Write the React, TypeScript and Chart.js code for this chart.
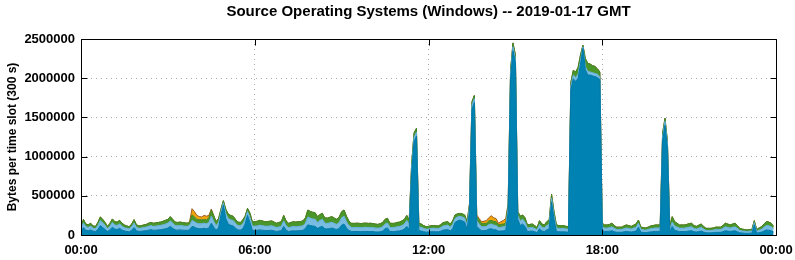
import React, { useEffect, useRef } from 'react';
import { Chart, registerables } from 'chart.js';

Chart.register(...registerables);

const chartTitle = 'Source Operating Systems (Windows) -- 2019-01-17 GMT';
const yAxisTitle = 'Bytes per time slot (300 s)';
const xTickLabels = ['00:00', '06:00', '12:00', '18:00', '00:00'];
const xTickHours = [0, 6, 12, 18, 24];
const yTickValues = [0, 500000, 1000000, 1500000, 2000000, 2500000];
const slotMinutes = 5;
const seriesNames = ['Windows (dark blue)', 'Windows (light blue)', 'Windows (green)', 'Windows (orange)'];

// values in kilobytes per 300 s slot, 288 slots
const darkBlue = [
  40, 95, 60, 55, 65, 48, 45, 70, 120, 95,
  70, 45, 65, 100, 75, 70, 85, 62, 52, 45,
  40, 60, 95, 55, 45, 48, 52, 55, 62, 68,
  60, 62, 65, 68, 72, 80, 88, 110, 85, 65,
  62, 65, 62, 60, 58, 68, 110, 100, 85, 80,
  80, 85, 80, 90, 150, 100, 65, 90, 250, 380,
  210, 140, 125, 115, 90, 65, 62, 80, 140, 250,
  160, 60, 58, 60, 65, 62, 58, 56, 58, 60,
  52, 46, 50, 55, 110, 60, 45, 50, 55, 52,
  55, 56, 60, 85, 130, 120, 115, 110, 85, 100,
  110, 80, 78, 82, 88, 78, 70, 85, 125, 140,
  90, 60, 45, 44, 45, 45, 43, 45, 46, 44,
  45, 43, 40, 38, 42, 50, 80, 90, 45, 44,
  45, 50, 52, 60, 75, 110, 70, 780, 1190, 1260,
  55, 50, 42, 36, 38, 42, 43, 42, 40, 48,
  62, 66, 70, 52, 80, 160, 180, 190, 180, 165,
  70, 300, 1600, 1690, 110, 80, 55, 55, 60, 75,
  80, 70, 65, 50, 50, 55, 60, 280, 1990, 2350,
  2200, 200, 120, 140, 110, 45, 48, 50, 42, 30,
  80, 50, 45, 65, 75, 420, 200, 45, 42, 40,
  42, 38, 36, 1850, 1990, 1960, 2000, 2180, 2380, 2110,
  2040, 2040, 2030, 2020, 2010, 1980, 55, 46, 46, 48,
  55, 42, 35, 35, 35, 40, 46, 42, 38, 44,
  50, 100, 35, 33, 30, 35, 40, 42, 46, 46,
  46, 1200, 1400, 1110, 38, 110, 60, 52, 44, 44,
  44, 47, 52, 55, 42, 38, 44, 50, 38, 28,
  28, 28, 30, 34, 34, 34, 42, 55, 50, 45,
  50, 55, 42, 28, 25, 23, 20, 23, 23, 130,
  23, 30, 36, 50, 65, 62, 55, 38,
];

const lightBlue = [
  30, 60, 45, 42, 48, 38, 36, 50, 65, 60,
  50, 35, 47, 60, 52, 52, 57, 48, 42, 40,
  38, 45, 57, 42, 40, 42, 44, 46, 50, 52,
  50, 52, 53, 55, 58, 60, 65, 70, 65, 55,
  55, 56, 55, 53, 52, 55, 75, 70, 65, 63,
  62, 65, 63, 70, 90, 75, 55, 65, 45, 30,
  65, 70, 70, 70, 60, 55, 55, 60, 60, 50,
  65, 55, 55, 56, 60, 58, 56, 55, 57, 58,
  55, 50, 52, 55, 70, 58, 50, 52, 55, 53,
  55, 56, 58, 65, 100, 95, 90, 90, 75, 85,
  90, 72, 70, 73, 75, 70, 65, 75, 95, 100,
  80, 60, 52, 51, 52, 52, 50, 52, 53, 51,
  52, 50, 50, 48, 50, 54, 60, 63, 52, 51,
  52, 55, 56, 60, 65, 75, 60, 60, 55, 50,
  50, 48, 42, 38, 40, 42, 43, 42, 41, 45,
  52, 55, 56, 48, 55, 50, 50, 48, 50, 50,
  55, 55, 55, 50, 70, 60, 50, 50, 50, 58,
  60, 58, 55, 45, 48, 50, 50, 60, 55, 50,
  50, 50, 60, 60, 55, 43, 45, 46, 40, 35,
  55, 48, 43, 55, 60, 50, 50, 45, 42, 42,
  42, 40, 38, 50, 50, 50, 50, 50, 20, 40,
  45, 40, 40, 40, 40, 40, 50, 42, 42, 45,
  50, 42, 35, 35, 35, 40, 44, 42, 38, 43,
  47, 50, 35, 33, 32, 35, 40, 42, 44, 44,
  44, 50, 50, 50, 38, 55, 55, 50, 44, 44,
  44, 46, 48, 50, 42, 38, 43, 48, 38, 30,
  30, 30, 32, 35, 35, 35, 42, 50, 47, 44,
  47, 50, 42, 30, 27, 25, 24, 25, 25, 28,
  25, 32, 38, 48, 55, 55, 50, 40,
];

const green = [
  20, 45, 35, 33, 37, 29, 29, 40, 45, 45,
  40, 28, 38, 45, 43, 43, 45, 40, 34, 30,
  28, 35, 44, 33, 30, 30, 32, 34, 38, 40,
  40, 41, 42, 42, 45, 47, 47, 54, 50, 45,
  43, 44, 43, 42, 40, 37, 71, 60, 50, 52,
  53, 45, 52, 60, 77, 70, 50, 55, 35, 28,
  55, 57, 55, 55, 50, 45, 43, 50, 40, 40,
  55, 55, 57, 59, 62, 60, 58, 59, 60, 62,
  58, 54, 58, 60, 70, 62, 55, 58, 60, 60,
  60, 60, 62, 70, 89, 85, 85, 85, 74, 75,
  77, 68, 67, 70, 71, 67, 65, 70, 77, 79,
  70, 60, 53, 53, 53, 53, 52, 53, 53, 53,
  53, 52, 50, 49, 53, 56, 60, 60, 53, 53,
  53, 55, 57, 60, 60, 65, 60, 60, 55, 50,
  45, 42, 36, 32, 32, 34, 34, 34, 34, 37,
  43, 44, 44, 40, 45, 45, 40, 38, 40, 40,
  45, 45, 45, 40, 55, 50, 40, 40, 40, 47,
  46, 47, 50, 35, 37, 35, 40, 60, 55, 50,
  50, 50, 60, 55, 55, 40, 42, 44, 38, 30,
  48, 42, 40, 50, 55, 50, 50, 40, 36, 36,
  36, 32, 32, 50, 60, 70, 90, 70, 20, 100,
  105, 100, 90, 90, 70, 60, 45, 40, 40, 42,
  45, 36, 30, 30, 30, 35, 38, 36, 34, 38,
  43, 41, 30, 29, 28, 30, 35, 36, 38, 38,
  40, 50, 40, 40, 34, 69, 55, 48, 40, 40,
  40, 42, 45, 45, 36, 34, 38, 42, 34, 27,
  27, 27, 28, 31, 31, 31, 36, 45, 43, 39,
  43, 45, 36, 27, 23, 22, 20, 22, 22, 25,
  22, 28, 32, 42, 50, 48, 45, 32,
];

const orange = [
  0, 0, 0, 0, 0, 0, 0, 0, 0, 0,
  0, 0, 0, 0, 0, 0, 0, 0, 0, 0,
  0, 0, 0, 0, 0, 0, 0, 0, 0, 0,
  0, 0, 0, 0, 0, 0, 0, 0, 0, 0,
  0, 0, 0, 0, 0, 10, 80, 70, 50, 40,
  35, 55, 45, 30, 15, 5, 0, 0, 0, 0,
  0, 0, 0, 0, 0, 0, 0, 0, 0, 0,
  0, 0, 0, 0, 0, 0, 0, 0, 0, 0,
  0, 0, 0, 0, 0, 0, 0, 0, 0, 0,
  0, 0, 0, 0, 0, 0, 0, 0, 0, 0,
  0, 0, 0, 0, 0, 0, 0, 0, 0, 0,
  0, 0, 0, 0, 0, 0, 0, 0, 0, 0,
  0, 0, 0, 0, 0, 0, 0, 0, 0, 0,
  0, 0, 0, 0, 0, 0, 0, 0, 0, 0,
  0, 0, 0, 0, 0, 0, 0, 0, 0, 0,
  0, 0, 0, 0, 0, 0, 0, 0, 0, 0,
  0, 0, 0, 0, 20, 20, 25, 30, 35, 40,
  60, 45, 40, 20, 35, 45, 60, 0, 0, 0,
  0, 0, 0, 0, 0, 0, 0, 0, 0, 0,
  0, 0, 0, 0, 0, 0, 0, 0, 0, 0,
  0, 0, 0, 0, 0, 0, 0, 0, 0, 0,
  0, 0, 0, 0, 0, 0, 0, 0, 0, 0,
  0, 0, 0, 0, 0, 0, 0, 0, 0, 0,
  0, 0, 0, 0, 0, 0, 0, 0, 0, 0,
  0, 0, 0, 0, 0, 0, 0, 0, 0, 0,
  0, 0, 0, 0, 0, 0, 0, 0, 0, 0,
  0, 0, 0, 0, 0, 0, 0, 0, 0, 0,
  0, 0, 0, 0, 0, 0, 0, 0, 0, 0,
  0, 0, 0, 0, 0, 0, 0, 0,
];

const seriesValues = [darkBlue, lightBlue, green, orange];
const fillColors = ['#0083b3', '#78bce2', '#4b962a', '#f2a40c'];
const lineColors = ['#0078a6', '#62aedb', '#3f8624', '#9c5a1c'];

const FONT = '"Liberation Sans", Arial, Helvetica, sans-serif';

const framePlugin = {
  id: 'gnuFrame',
  afterDatasetsDraw(chart: any) {
    const { ctx, chartArea: a, scales } = chart;
    ctx.save();
    ctx.strokeStyle = '#000';
    ctx.lineWidth = 1;
    ctx.beginPath();
    const L = Math.round(a.left) + 0.5;
    const R = Math.round(a.right) + 0.5;
    const T = Math.round(a.top) + 0.5;
    const B = Math.round(a.bottom) + 0.5;
    ctx.rect(L, T, R - L, B - T);
    for (const v of yTickValues) {
      const y = Math.round(scales.y.getPixelForValue(v)) + 0.5;
      ctx.moveTo(L, y); ctx.lineTo(L + 6, y);
      ctx.moveTo(R, y); ctx.lineTo(R - 6, y);
    }
    for (const h of xTickHours) {
      const x = Math.round(scales.x.getPixelForValue(h)) + 0.5;
      ctx.moveTo(x, B); ctx.lineTo(x, B - 6);
      ctx.moveTo(x, T); ctx.lineTo(x, T + 6);
    }
    ctx.stroke();
    ctx.restore();
  },
};

export default function App() {
  const ref = useRef<HTMLCanvasElement | null>(null);

  useEffect(() => {
    if (!ref.current) return;
    const datasets = seriesValues.map((vals, k) => ({
      label: seriesNames[k],
      data: vals.map((v, i) => ({ x: (i * slotMinutes) / 60, y: v * 1000 })),
      backgroundColor: fillColors[k],
      borderColor: lineColors[k],
      borderWidth: 1,
      pointRadius: 0,
      tension: 0,
      fill: k === 0 ? 'origin' : '-1',
    }));
    const tickFont = { family: FONT, size: 13, weight: 'bold' as const };
    const chart = new Chart(ref.current, {
      type: 'line',
      data: { datasets },
      plugins: [framePlugin],
      options: {
        animation: false,
        responsive: false,
        layout: { padding: { left: 0, right: 19, top: 0, bottom: 0 } },
        plugins: {
          legend: { display: false },
          tooltip: { enabled: false },
          title: {
            display: true,
            fullSize: false,
            text: chartTitle,
            color: '#000',
            font: { family: FONT, size: 15, weight: 'bold' },
            padding: { top: 3, bottom: 18 },
          },
        },
        scales: {
          x: {
            type: 'linear',
            min: 0,
            max: 24,
            ticks: {
              stepSize: 6,
              autoSkip: false,
              maxRotation: 0,
              color: '#000',
              font: tickFont,
              padding: 8,
              callback: (v: any) => xTickLabels[xTickHours.indexOf(Number(v))] ?? '',
            },
            grid: { color: '#a8a8a8', lineWidth: 1, drawTicks: false },
            border: { display: false, dash: [1, 4] },
            afterFit: (s: any) => { s.height = 25; s.paddingLeft = 0; s.paddingRight = 0; },
          },
          y: {
            stacked: true,
            min: 0,
            max: 2500000,
            ticks: {
              stepSize: 500000,
              color: '#000',
              font: tickFont,
              padding: 6,
              callback: (v: any) => String(v),
            },
            grid: { color: '#a8a8a8', lineWidth: 1, drawTicks: false },
            border: { display: false, dash: [1, 4] },
            title: {
              display: true,
              text: yAxisTitle,
              color: '#000',
              font: { family: FONT, size: 12, weight: 'bold' },
              padding: { top: 5, bottom: 0 },
            },
            afterFit: (s: any) => { s.width = 81; s.paddingTop = 0; s.paddingBottom = 0; },
          },
        },
      },
    } as any);
    return () => chart.destroy();
  }, []);

  return (
    <div style={{ position: 'absolute', left: 0, top: 0, width: 795, height: 260, background: '#fff' }}>
      <canvas ref={ref} width={795} height={260} style={{ display: 'block' }} />
    </div>
  );
}
